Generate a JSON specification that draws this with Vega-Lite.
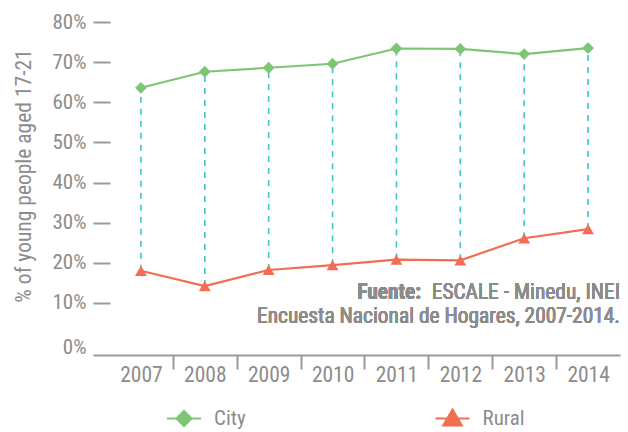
{
  "$schema": "https://vega.github.io/schema/vega-lite/v6.json",
  "autosize": {"type": "none"},
  "padding": {"left": 93, "top": 22, "right": 8, "bottom": 89},
  "width": 527,
  "height": 321,
  "config": {
    "view": {"stroke": null},
    "font": "Liberation Sans Narrow, Roboto Condensed, DejaVu Sans Condensed, sans-serif"
  },
  "datasets": {
    "rows": [
      {"year": 2007, "City": 63.6, "Rural": 18.0},
      {"year": 2008, "City": 67.6, "Rural": 14.2},
      {"year": 2009, "City": 68.6, "Rural": 18.2},
      {"year": 2010, "City": 69.6, "Rural": 19.4},
      {"year": 2011, "City": 73.4, "Rural": 20.8},
      {"year": 2012, "City": 73.3, "Rural": 20.6},
      {"year": 2013, "City": 72.0, "Rural": 26.1},
      {"year": 2014, "City": 73.5, "Rural": 28.4}
    ]
  },
  "data": {"name": "rows"},
  "layer": [
    {
      "mark": {"type": "rule", "color": "#3ec6c8", "strokeWidth": 1.6, "strokeDash": [6, 6]},
      "encoding": {
        "x": {
          "field": "year", "type": "quantitative",
          "scale": {"domain": [2006.25, 2014.5], "nice": false, "zero": false},
          "axis": {
            "values": [2007.5, 2008.5, 2009.5, 2010.5, 2011.5, 2012.5, 2013.5, 2014.5],
            "labelExpr": "format(datum.value - 0.5, 'd')",
            "labelOffset": -31.875,
            "labelFlush": false,
            "labelOverlap": false,
            "labelBound": false,
            "offset": 12,
            "domainColor": "#9a9a9a",
            "domainWidth": 2,
            "tickColor": "#9a9a9a",
            "tickWidth": 2,
            "tickSize": 14,
            "tickOpacity": {"condition": {"test": "datum.value > 2014", "value": 0}, "value": 1},
            "grid": false,
            "labelFontSize": 21.5,
            "labelColor": "#8c8c8c",
            "labelPadding": -5,
            "title": null
          }
        },
        "y": {
          "field": "Rural", "type": "quantitative",
          "scale": {"domain": [0, 80], "nice": false},
          "axis": {
            "values": [0, 10, 20, 30, 40, 50, 60, 70, 80],
            "labelExpr": "datum.value + '%'",
            "domain": false,
            "grid": false,
            "tickColor": "#9a9a9a",
            "tickWidth": 2,
            "tickSize": -17,
            "tickOpacity": {"condition": {"test": "datum.value == 0", "value": 0}, "value": 1},
            "labelOffset": {"condition": {"test": "datum.value == 0", "value": 4}, "value": 0},
            "labelPadding": 24,
            "labelFontSize": 21,
            "labelColor": "#8c8c8c",
            "title": "% of young people aged 17-21",
            "titleFontSize": 21.5,
            "titleFontWeight": "normal",
            "titleColor": "#8c8c8c",
            "titlePadding": 16,
            "titleY": 153.5
          }
        },
        "y2": {"field": "City"}
      }
    },
    {
      "transform": [{"fold": ["City", "Rural"], "as": ["series", "value"]}],
      "mark": {"type": "line", "strokeWidth": 2.2},
      "encoding": {
        "x": {"field": "year", "type": "quantitative"},
        "y": {"field": "value", "type": "quantitative"},
        "color": {
          "field": "series", "type": "nominal",
          "scale": {"domain": ["City", "Rural"], "range": ["#7cc674", "#f26d51"]},
          "legend": {
            "orient": "none",
            "legendX": 74,
            "legendY": 379.5,
            "direction": "horizontal",
            "title": null,
            "padding": 0,
            "symbolSize": 1156,
            "symbolStrokeWidth": 0,
            "columnPadding": 189.5,
            "labelOffset": 13,
            "labelFontSize": 21,
            "labelColor": "#8c8c8c",
            "encode": {
              "symbols": {
                "update": {
                  "shape": {"signal": "datum.value === 'City' ? 'M-1,-0.06L1,-0.06L1,0.06L-1,0.06Z M0,-0.53L0.53,0L0,0.53L-0.53,0Z' : 'M-1,-0.06L1,-0.06L1,0.06L-1,0.06Z M0,-0.65L0.65,0.47L-0.65,0.47Z'"},
                  "fill": {"signal": "datum.value === 'City' ? '#7cc674' : '#f26d51'"},
                  "fillOpacity": {"value": 1},
                  "opacity": {"value": 1}
                }
              }
            }
          }
        }
      }
    },
    {
      "mark": {"type": "point", "filled": true, "opacity": 1, "shape": "diamond", "color": "#7cc674", "size": 140},
      "encoding": {
        "x": {"field": "year", "type": "quantitative"},
        "y": {"field": "City", "type": "quantitative"}
      }
    },
    {
      "mark": {"type": "point", "filled": true, "opacity": 1, "shape": "triangle-up", "color": "#f26d51", "size": 140},
      "encoding": {
        "x": {"field": "year", "type": "quantitative"},
        "y": {"field": "Rural", "type": "quantitative"}
      }
    },
    {
      "mark": {"type": "text", "text": "Fuente:", "fontWeight": "bold", "fontSize": 21.4, "color": "#8c8c8c", "align": "left", "baseline": "middle"},
      "encoding": {"x": {"datum": 2010.386}, "y": {"datum": 12.4}}
    },
    {
      "mark": {"type": "text", "text": "ESCALE - Minedu, INEI", "fontSize": 21.4, "color": "#8c8c8c", "align": "right", "baseline": "middle"},
      "encoding": {"x": {"datum": 2014.5}, "y": {"datum": 12.4}}
    },
    {
      "mark": {"type": "text", "text": "Encuesta Nacional de Hogares, 2007-2014.", "fontSize": 21.4, "color": "#8c8c8c", "align": "right", "baseline": "middle"},
      "encoding": {"x": {"datum": 2014.5}, "y": {"datum": 6.4}}
    }
  ]
}
